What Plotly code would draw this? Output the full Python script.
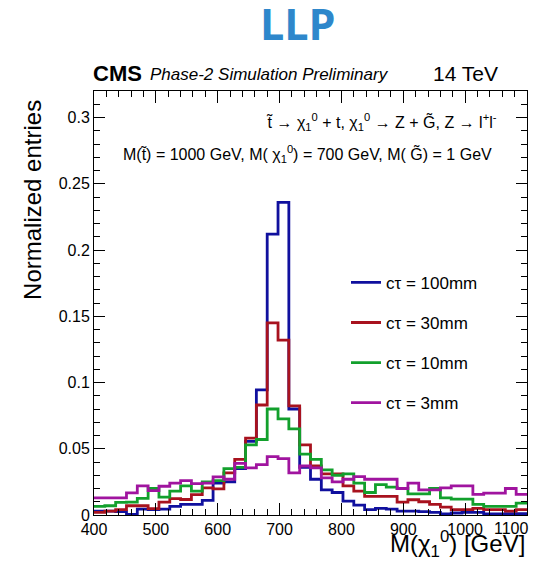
import numpy as np
import plotly.graph_objects as go

# Histogram binning: 40 bins of 17.5 GeV between 400 and 1100 GeV
bin_lo, bin_hi, n_bins = 400.0, 1100.0, 40
bin_edges = np.linspace(bin_lo, bin_hi, n_bins + 1)

# Normalized entries per bin for each proper decay length
ctau_100mm = [0.003, 0.003, 0.0025, 0.0005, 0.0045, 0.004, 0.0045, 0.0065, 0.008, 0.008,
              0.011, 0.024, 0.025, 0.035, 0.0555, 0.0945, 0.212, 0.236, 0.080, 0.036,
              0.027, 0.019, 0.017, 0.0105, 0.0075, 0.004, 0.005, 0.0045, 0.003, 0.003,
              0.0025, 0.002, 0.0008, 0.0015, 0.002, 0.002, 0.0008, 0.0008, 0.001, 0.001]
ctau_30mm = [0.002, 0.003, 0.004, 0.007, 0.007, 0.0048, 0.0097, 0.0124, 0.0117, 0.0154,
             0.0205, 0.0197, 0.0318, 0.042, 0.058, 0.083, 0.145, 0.132, 0.0824, 0.053,
             0.037, 0.031, 0.031, 0.022, 0.018, 0.014, 0.014, 0.014, 0.0097, 0.0115,
             0.010, 0.008, 0.006, 0.004, 0.004, 0.005, 0.004, 0.004, 0.003, 0.004]
ctau_10mm = [0.0065, 0.007, 0.0095, 0.0097, 0.0125, 0.020, 0.0135, 0.018, 0.022, 0.018,
             0.025, 0.026, 0.035, 0.036, 0.053, 0.057, 0.080, 0.0725, 0.065, 0.046,
             0.042, 0.034, 0.030, 0.031, 0.024, 0.017, 0.023, 0.021, 0.020, 0.016,
             0.016, 0.020, 0.013, 0.012, 0.012, 0.008, 0.0065, 0.0065, 0.0065, 0.009]
ctau_3mm = [0.013, 0.013, 0.013, 0.0167, 0.022, 0.0184, 0.0217, 0.024, 0.026, 0.0237,
            0.024, 0.0287, 0.027, 0.039, 0.0355, 0.038, 0.044, 0.0425, 0.0318, 0.037,
            0.0355, 0.028, 0.025, 0.027, 0.029, 0.027, 0.027, 0.027, 0.020, 0.024,
            0.019, 0.019, 0.0205, 0.022, 0.022, 0.0155, 0.0165, 0.0165, 0.020, 0.0155]

series_names = ["c\u03c4 = 100mm", "c\u03c4 = 30mm", "c\u03c4 = 10mm", "c\u03c4 = 3mm"]
series_values = [ctau_100mm, ctau_30mm, ctau_10mm, ctau_3mm]
series_colors = ["#10109E", "#A8121E", "#12A02C", "#A0149F"]

y_tick_vals = [0, 0.05, 0.1, 0.15, 0.2, 0.25, 0.3]
y_tick_text = ["0", "0.05", "0.1", "0.15", "0.2", "0.25", "0.3"]
x_tick_vals = [400, 500, 600, 700, 800, 900, 1000, 1100]
x_tick_text = ["400", "500", "600", "700", "800", "900", "1000", "1100"]

ROOT_FONT = "Liberation Sans, Arial, sans-serif"
TICK_FONT = dict(family=ROOT_FONT, size=16, color="black")

fig = go.Figure()
for name, vals, col in zip(series_names, series_values, series_colors):
    # step outline: each bin drawn from its low edge, closed at the last edge
    xs = list(bin_edges)
    ys = list(vals) + [vals[-1]]
    fig.add_trace(go.Scatter(
        x=xs, y=ys, mode="lines", name=name, legendgroup=name,
        line=dict(color=col, width=2.8, shape="hv"),
        hoverinfo="skip",
    ))

axis_common = dict(
    showline=True, linecolor="black", linewidth=1, mirror="ticks",
    ticks="inside", tickcolor="black", tickwidth=1,
    showgrid=False, zeroline=False, automargin=False,
    tickfont=TICK_FONT,
)

# the last x label is set separately, right-aligned, so it stays inside the canvas
fig.update_xaxes(
    range=[bin_lo, bin_hi], tickvals=x_tick_vals,
    ticktext=x_tick_text[:-1] + [""], ticklen=12,
    minor=dict(dtick=20, ticks="inside", ticklen=6, tickcolor="black", showgrid=False),
    **axis_common,
)
fig.update_yaxes(
    range=[0, 0.32], tickvals=y_tick_vals, ticktext=y_tick_text, ticklen=11,
    minor=dict(dtick=0.01, ticks="inside", ticklen=6, tickcolor="black", showgrid=False),
    **axis_common,
)

annotations = [
    dict(text=x_tick_text[-1], x=x_tick_vals[-1], xref="x", y=-0.008, yref="paper",
         xanchor="right", yanchor="top", xshift=4, font=TICK_FONT),
    dict(text="<b>LLP</b>", x=0.471, y=1.160, xanchor="center", yanchor="middle",
         font=dict(family="Open Sans, sans-serif", size=43, color="#2E87CB")),
    dict(text="<b>CMS</b>", x=-0.007, y=1.042, xanchor="left", yanchor="middle",
         font=dict(family=ROOT_FONT, size=22, color="black")),
    dict(text="<i>Phase-2 Simulation Preliminary</i>", x=0.1247, y=1.040,
         xanchor="left", yanchor="middle",
         font=dict(family=ROOT_FONT, size=17, color="black")),
    dict(text="14 TeV", x=0.9376, y=1.042, xanchor="right", yanchor="middle",
         font=dict(family=ROOT_FONT, size=21, color="black")),
    dict(text="t\u0303 \u2192 \u03c7<sub>1</sub><sup>0</sup> + t, \u03c7<sub>1</sub><sup>0</sup> "
              "\u2192 Z + G\u0303, Z \u2192 l<sup>+</sup>l<sup>-</sup>",
         x=0.935, y=0.928, xanchor="right", yanchor="middle",
         font=dict(family=ROOT_FONT, size=16, color="black")),
    dict(text="M(t\u0303) = 1000 GeV, M( \u03c7<sub>1</sub><sup>0</sup>) = 700 GeV, "
              "M( G\u0303) = 1 GeV",
         x=0.9235, y=0.852, xanchor="right", yanchor="middle",
         font=dict(family=ROOT_FONT, size=16, color="black")),
    dict(text="Normalized entries", textangle=-90, x=-0.141, y=0.743,
         xanchor="center", yanchor="middle",
         font=dict(family=ROOT_FONT, size=24, color="black")),
    dict(text="M(\u03c7<sub>1</sub><sup>0</sup>) [GeV]", x=1.0, y=-0.068,
         xanchor="right", yanchor="middle",
         font=dict(family=ROOT_FONT, size=24, color="black")),
]
for a in annotations:
    a.setdefault("xref", "paper")
    a.setdefault("yref", "paper")
    a["showarrow"] = False

fig.update_layout(
    width=544, height=575,
    margin=dict(l=94, r=17, t=91, b=60),
    paper_bgcolor="white", plot_bgcolor="white",
    annotations=annotations,
    showlegend=True,
    legend=dict(
        x=0.582, y=0.590, xanchor="left", yanchor="top",
        bgcolor="rgba(0,0,0,0)", borderwidth=0,
        font=dict(family=ROOT_FONT, size=17, color="black"),
        traceorder="grouped", tracegroupgap=15,
    ),
)

fig.write_html("out.html")
